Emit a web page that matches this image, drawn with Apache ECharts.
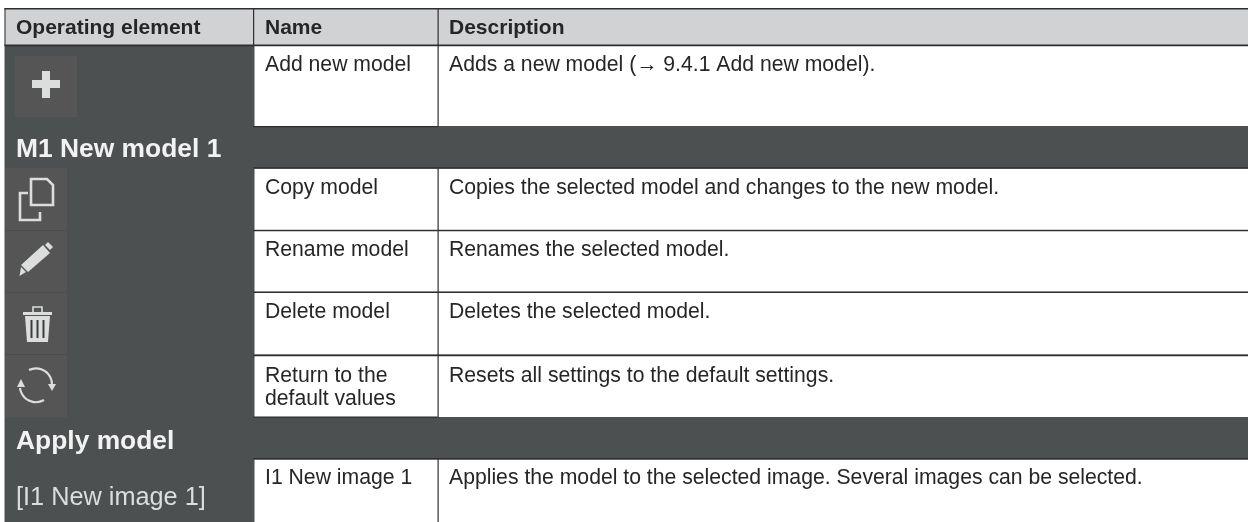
<!DOCTYPE html>
<html>
<head>
<meta charset="utf-8">
<style>
  html, body { margin: 0; padding: 0; background: #fff; }
  #container { width: 1248px; height: 522px; }
</style>
<script src="https://cdn.jsdelivr.net/npm/echarts@6/dist/echarts.min.js"></script>
</head>
<body>
<div id="container"></div>
<script>
// table text
const headers = ['Operating element', 'Name', 'Description'];
const sectionTitles = ['M1 New model 1', 'Apply model'];
const imageLabel = '[I1 New image 1]';
const names = ['Add new model', 'Copy model', 'Rename model', 'Delete model', 'Return to the\ndefault values', 'I1 New image 1'];
const descriptions = [
  'Adds a new model (\u2192 9.4.1 Add new model).',
  'Copies the selected model and changes to the new model.',
  'Renames the selected model.',
  'Deletes the selected model.',
  'Resets all settings to the default settings.',
  'Applies the model to the selected image. Several images can be selected.'
];

// layout, in axis units (the axes run 1:1 with the window)
const left = 4.5, col2 = 253, col3 = 437.5, right = 1248;
const rowTops = [46, 168.5, 231, 292.7, 356, 459.5];
const rowBottoms = [126, 229.7, 291.5, 354.3, 417, 522];
const rowTextY = [65.5, 188.5, 250.5, 312.5, 387.5, 478.5];
const descTextY = [65.5, 188.5, 250.5, 312.5, 376, 478.5];
const sectionTextY = [150, 441.5];

const dark = '#4c5051', iconBg = '#555556', headFill = '#d0d2d3', lineCol = '#2e2e30', textCol = '#262628', iconCol = '#dcdddd';

const rects = [];
const addRect = (x0, y0, x1, y1, fill) => rects.push({ x0, y0, x1, y1, fill });

addRect(left, 46, right, 522, dark);
addRect(left, 9, right, 45, headFill);
// icon cells
addRect(15, 56, 77, 117, iconBg);
addRect(left + 0.5, 168, 67, 417, iconBg);
[230, 292, 354].forEach(y => addRect(left + 0.5, y, 67, y + 0.7, '#474a4b'));
// white cells
rowTops.forEach((t, i) => {
  addRect(col2 + 1.5, t, right, rowBottoms[i], '#ffffff');
});
// rules
addRect(left, 8, right, 9.5, lineCol);
addRect(left, 44.5, right, 46.2, lineCol);
addRect(col2 + 0.5, 167.3, right, 168.8, lineCol);
addRect(col2 + 0.5, 230, right, 231.2, lineCol);
addRect(col2 + 0.5, 291.8, right, 293, lineCol);
addRect(col2 + 0.5, 355, right, 356.3, lineCol);
addRect(col2 + 0.5, 458, right, 459.5, lineCol);
addRect(col2 + 0.5, 126, col3, 127.3, lineCol);
addRect(col2 + 0.5, 416.5, col3, 417.7, lineCol);
addRect(left, 8, left + 1, 46, lineCol);
addRect(col2, 8, col2 + 1.2, 46, lineCol);
addRect(col3, 8, col3 + 1.2, 127, lineCol);
addRect(col3, 167.5, col3 + 1.2, 417.5, lineCol);
addRect(col3, 458, col3 + 1.2, 522, lineCol);
addRect(col2, 126, col2 + 1.2, 127.3, lineCol);

const texts = [];
const addText = (x, y, text, font, fill, lineHeight) => texts.push({ x, y, text, font, fill, lineHeight });
const bold = 'bold 21px "Liberation Sans", Arial, sans-serif';
const body = '21.2px "Liberation Sans", Arial, sans-serif';
const sectionFont = 'bold 26.4px "Liberation Sans", Arial, sans-serif';

addText(16, 28.5, headers[0], bold, textCol);
addText(265, 28.5, headers[1], bold, textCol);
addText(449, 28.5, headers[2], bold, textCol);
sectionTitles.forEach((t, i) => addText(16, sectionTextY[i], t, sectionFont, '#f2f2f2'));
addText(16, 498.5, imageLabel, '25.3px "Liberation Sans", Arial, sans-serif', iconCol);
names.forEach((n, i) => addText(265, rowTextY[i], n, body, textCol, 23));
descriptions.forEach((d, i) => addText(449, descTextY[i], d, body, textCol));

// icons: path parts relative to an origin
const icons = [
  { ox: 15, oy: 56, parts: [{ d: 'M27 15 L35 15 L35 24 L45 24 L45 32 L35 32 L35 42 L27 42 L27 32 L17 32 L17 24 L27 24 Z', fill: iconCol }] },
  { ox: 5, oy: 168, parts: [
    { d: 'M26 11 L42 11 L48 17 L48 37 L26 37 Z', stroke: iconCol, w: 2.6 },
    { d: 'M23 25 L15 25 L15 52 L35 52 L35 44', stroke: iconCol, w: 2.6 }
  ] },
  { ox: 5, oy: 230, parts: [
    { d: 'M38 15 L45 23 L23 42 L16 35 Z', fill: iconCol },
    { d: 'M43 12 L48 17 L45 20 L40 15 Z', fill: iconCol },
    { d: 'M16 37 L21 42 L14.5 46 Z', fill: iconCol }
  ] },
  { ox: 5, oy: 292, parts: [
    { d: 'M18 20 L47 20 L47 23 L18 23 Z', fill: iconCol },
    { d: 'M28 20 L28 15 L37 15 L37 20', stroke: iconCol, w: 1.6 },
    { d: 'M20 24 L45 24 L43 50 L22 50 Z', fill: iconCol },
    { d: 'M25.5 28 L27.5 28 L27.5 46 L25.5 46 Z', fill: '#3c3c3c' },
    { d: 'M31.5 28 L33.5 28 L33.5 46 L31.5 46 Z', fill: '#3c3c3c' },
    { d: 'M37.5 28 L39.5 28 L39.5 46 L37.5 46 Z', fill: '#3c3c3c' }
  ] },
  { ox: 5, oy: 354, parts: [
    { d: 'M24 16 A16 16 0 0 1 47 31', stroke: iconCol, w: 2.2 },
    { d: 'M39 46 A16 16 0 0 1 15 34', stroke: iconCol, w: 2.2 },
    { d: 'M43 30 L51 30 L47 37 Z', fill: iconCol },
    { d: 'M12 33 L20 33 L16 25 Z', fill: iconCol }
  ] }
];

const chart = echarts.init(document.getElementById('container'), null, { renderer: 'canvas' });

const option = {
  animation: false,
  backgroundColor: '#ffffff',
  grid: { left: 0, right: 0, top: 0, bottom: 0 },
  xAxis: { type: 'value', min: 0, max: 1248, show: false },
  yAxis: { type: 'value', min: 0, max: 522, inverse: true, show: false },
  series: [
    {
      type: 'custom',
      coordinateSystem: 'cartesian2d',
      clip: false,
      silent: true,
      z: 1,
      data: rects.map(r => [r.x0, r.y0, r.x1, r.y1]),
      encode: { x: [0, 2], y: [1, 3] },
      renderItem(params, api) {
        const p0 = api.coord([api.value(0), api.value(1)]);
        const p1 = api.coord([api.value(2), api.value(3)]);
        return {
          type: 'rect',
          shape: { x: p0[0], y: p0[1], width: p1[0] - p0[0], height: p1[1] - p0[1] },
          style: { fill: rects[params.dataIndex].fill }
        };
      }
    },
    {
      type: 'custom',
      coordinateSystem: 'cartesian2d',
      clip: false,
      silent: true,
      z: 2,
      data: icons.map(ic => [ic.ox, ic.oy]),
      renderItem(params, api) {
        const p = api.coord([api.value(0), api.value(1)]);
        return {
          type: 'group',
          x: p[0],
          y: p[1],
          children: icons[params.dataIndex].parts.map(part => ({
            type: 'path',
            shape: { pathData: part.d },
            style: {
              fill: part.fill || 'none',
              stroke: part.stroke || null,
              lineWidth: part.w || 0
            }
          }))
        };
      }
    },
    {
      type: 'custom',
      coordinateSystem: 'cartesian2d',
      clip: false,
      silent: true,
      z: 3,
      data: texts.map(t => [t.x, t.y]),
      renderItem(params, api) {
        const t = texts[params.dataIndex];
        const p = api.coord([api.value(0), api.value(1)]);
        return {
          type: 'text',
          style: {
            x: p[0],
            y: p[1],
            text: t.text,
            font: t.font,
            fill: t.fill,
            lineHeight: t.lineHeight || undefined,
            align: 'left',
            verticalAlign: 'middle'
          }
        };
      }
    }
  ]
};
chart.setOption(option);
</script>
</body>
</html>
